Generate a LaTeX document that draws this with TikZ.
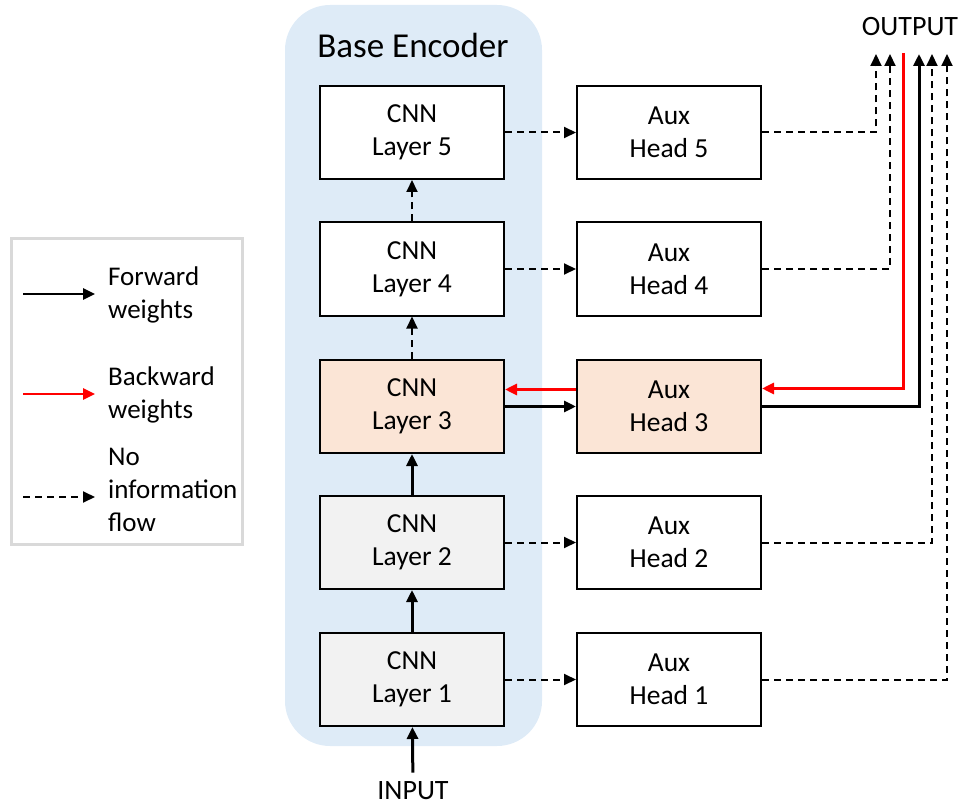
\documentclass[tikz,border=0pt]{standalone}
\usepackage{fontspec}
\setmainfont{Carlito}
\usetikzlibrary{arrows.meta, positioning}
\definecolor{encblue}{HTML}{DEEBF7}
\definecolor{peach}{HTML}{FBE5D6}
\definecolor{layergray}{HTML}{F2F2F2}
\definecolor{legendgray}{HTML}{D9D9D9}
\definecolor{backred}{HTML}{FF0000}
\tikzset{
  block/.style={draw, line width=2pt, minimum width=184pt, minimum height=93pt, align=center, font=\fontsize{27.5}{33}\selectfont},
  label/.style={font=\fontsize{27}{33}\selectfont, align=left, inner sep=0pt},
  fwd/.style={->, line width=3pt},
  bwd/.style={->, line width=3pt, draw=backred},
  noflow/.style={->, line width=2pt, dash pattern=on 7pt off 5pt},
}

\begin{document}
\begin{tikzpicture}[x=1pt, y=-1pt, >={Triangle[length=12pt, width=11pt]}]
        \useasboundingbox (0,0) rectangle (959,805);

        % Encoder background
        \node[fill=encblue, rounded corners=45pt, minimum width=257pt, minimum height=741pt] (enc) at (413.5, 375.5) {};
        \node[font=\fontsize{35}{40}\selectfont] (title) at (413, 45) {Base Encoder};

        % Nodes
        \node[block, fill=white] (l5) at (412, 132.5) {CNN\\Layer 5};
        \node[block, fill=white] (l4) at (412, 269) {CNN\\Layer 4};
        \node[block, fill=peach] (l3) at (412, 406.5) {CNN\\Layer 3};
        \node[block, fill=layergray] (l2) at (412, 542.5) {CNN\\Layer 2};
        \node[block, fill=layergray] (l1) at (412, 679.5) {CNN\\Layer 1};

        \node[block, fill=white] (h5) at (669, 132.5) {Aux\\Head 5};
        \node[block, fill=white] (h4) at (669, 269) {Aux\\Head 4};
        \node[block, fill=peach] (h3) at (669, 406.5) {Aux\\Head 3};
        \node[block, fill=white] (h2) at (669, 542.5) {Aux\\Head 2};
        \node[block, fill=white] (h1) at (669, 679.5) {Aux\\Head 1};

        \node[label, font=\fontsize{28}{33}\selectfont] (in) at (413, 791) {INPUT};
        \node[label, font=\fontsize{28}{33}\selectfont] (out) at (910, 27) {OUTPUT};

        % Output ends
        \coordinate (o5) at (876, 54);
        \coordinate (o4) at (890, 54);
        \coordinate (ob) at (903, 53);
        \coordinate (of) at (919, 54);
        \coordinate (o2) at (932, 54);
        \coordinate (o1) at (947, 54);

        % Encoder edges
        \draw[fwd, shorten <=9pt] (in) -- (l1);
        \draw[fwd] (l1) -- (l2);
        \draw[fwd] (l2) -- (l3);
        \draw[noflow] (l3) -- (l4);
        \draw[noflow] (l4) -- (l5);

        % Heads
        \draw[noflow] (l5) -- (h5);
        \draw[noflow] (l4) -- (h4);
        \draw[fwd] (l3) -- (h3);
        \draw[bwd] ([yshift=17pt]h3.west) -- ([yshift=17pt]l3.east);
        \draw[noflow] (l2) -- (h2);
        \draw[noflow] (l1) -- (h1);

        % To output
        \draw[noflow] (h5) -| (o5);
        \draw[noflow] (h4) -| (o4);
        \draw[bwd] (ob) |- ([yshift=18pt]h3.east);
        \draw[fwd] (h3) -| (of);
        \draw[noflow] (h2) -| (o2);
        \draw[noflow] (h1) -| (o1);

        % Legend
        \node[draw=legendgray, line width=3pt, minimum width=231pt, minimum height=305pt] (legend) at (126.5, 391.5) {};
        \node[label, anchor=west] (ft) at (108, 295) {Forward\\weights};
        \node[label, anchor=west] (bt) at (108, 395) {Backward\\weights};
        \node[label, anchor=west] (nt) at (108, 490) {No\\information\\flow};
        \coordinate (fa) at (23, 294);
        \coordinate (ba) at (23, 394);
        \coordinate (na) at (23, 497);
        \draw[fwd, line width=2.5pt, shorten >=13pt] (fa) -- (fa -| ft.west);
        \draw[bwd, line width=2.5pt, shorten >=13pt] (ba) -- (ba -| bt.west);
        \draw[noflow, shorten >=13pt] (na) -- (na -| nt.west);
    \end{tikzpicture}
\end{document}
